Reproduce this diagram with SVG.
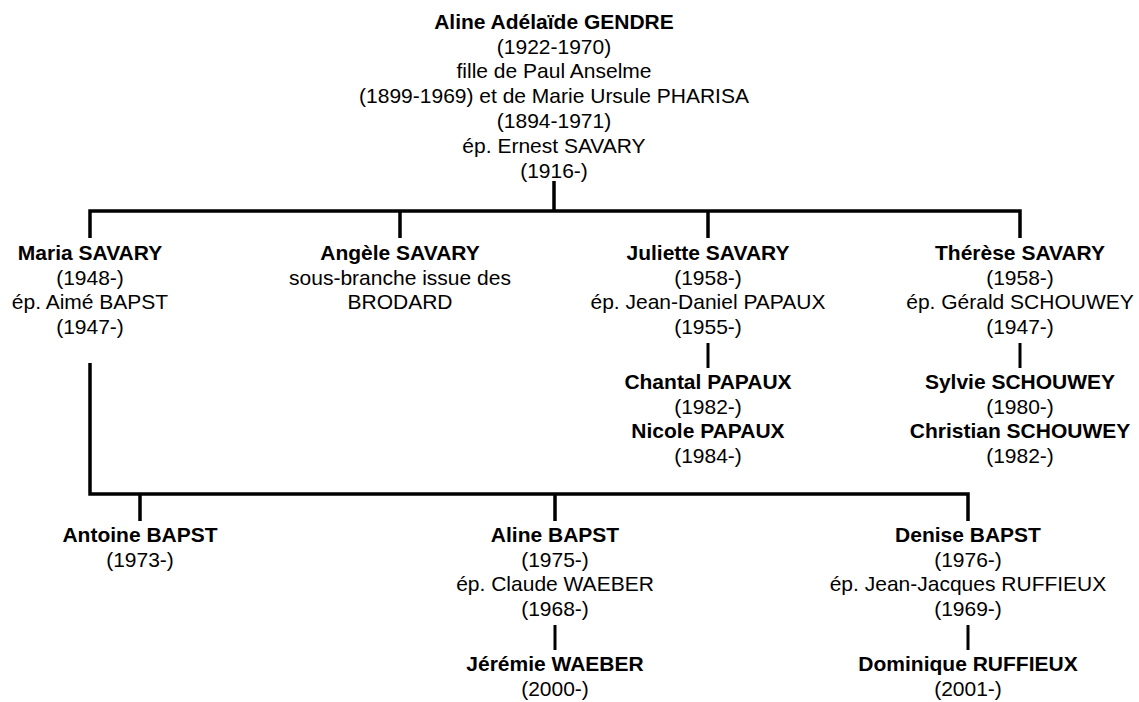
<svg xmlns="http://www.w3.org/2000/svg" width="1139" height="702" viewBox="0 0 1139 702">
<style>
text{font-family:"Liberation Sans",Arial,sans-serif;font-size:21px;fill:#000;text-anchor:middle}
.b{font-weight:bold}
.c{stroke:#000;stroke-width:3.5;fill:none}
.s{stroke:#000;stroke-width:3;fill:none}
</style>
<rect width="1139" height="702" fill="#fff"/>
<g id="connectors">
<path class="c" d="M554 181V211M90 238V211H1020V238M400 211V238M708 211V238"/>
<path class="s" d="M708 343V368M1020 343V368"/>
<path class="c" d="M90 363V494H968V521M140 494V521M555 494V521"/>
<path class="s" d="M555 625V650M968 625V650"/>
</g>
<g id="n-aline-gendre">
<text x="554" y="29" class="b">Aline Adélaïde GENDRE</text>
<text x="554" y="54">(1922-1970)</text>
<text x="554" y="78">fille de Paul Anselme</text>
<text x="554" y="103">(1899-1969) et de Marie Ursule PHARISA</text>
<text x="554" y="128">(1894-1971)</text>
<text x="554" y="153">ép. Ernest SAVARY</text>
<text x="554" y="178">(1916-)</text>
</g>
<g id="n-maria">
<text x="90" y="260" class="b">Maria SAVARY</text>
<text x="90" y="285">(1948-)</text>
<text x="90" y="309">ép. Aimé BAPST</text>
<text x="90" y="334">(1947-)</text>
</g>
<g id="n-angele">
<text x="400" y="260" class="b">Angèle SAVARY</text>
<text x="400" y="285">sous-branche issue des</text>
<text x="400" y="309">BRODARD</text>
</g>
<g id="n-juliette">
<text x="708" y="260" class="b">Juliette SAVARY</text>
<text x="708" y="285">(1958-)</text>
<text x="708" y="309">ép. Jean-Daniel PAPAUX</text>
<text x="708" y="334">(1955-)</text>
</g>
<g id="n-juliette-children">
<text x="708" y="389" class="b">Chantal PAPAUX</text>
<text x="708" y="414">(1982-)</text>
<text x="708" y="438" class="b">Nicole PAPAUX</text>
<text x="708" y="463">(1984-)</text>
</g>
<g id="n-therese">
<text x="1020" y="260" class="b">Thérèse SAVARY</text>
<text x="1020" y="285">(1958-)</text>
<text x="1020" y="309">ép. Gérald SCHOUWEY</text>
<text x="1020" y="334">(1947-)</text>
</g>
<g id="n-therese-children">
<text x="1020" y="389" class="b">Sylvie SCHOUWEY</text>
<text x="1020" y="414">(1980-)</text>
<text x="1020" y="438" class="b">Christian SCHOUWEY</text>
<text x="1020" y="463">(1982-)</text>
</g>
<g id="n-antoine">
<text x="140" y="542" class="b">Antoine BAPST</text>
<text x="140" y="567">(1973-)</text>
</g>
<g id="n-aline-bapst">
<text x="555" y="542" class="b">Aline BAPST</text>
<text x="555" y="567">(1975-)</text>
<text x="555" y="591">ép. Claude WAEBER</text>
<text x="555" y="616">(1968-)</text>
</g>
<g id="n-jeremie">
<text x="555" y="671" class="b">Jérémie WAEBER</text>
<text x="555" y="696">(2000-)</text>
</g>
<g id="n-denise">
<text x="968" y="542" class="b">Denise BAPST</text>
<text x="968" y="567">(1976-)</text>
<text x="968" y="591">ép. Jean-Jacques RUFFIEUX</text>
<text x="968" y="616">(1969-)</text>
</g>
<g id="n-dominique">
<text x="968" y="671" class="b">Dominique RUFFIEUX</text>
<text x="968" y="696">(2001-)</text>
</g>
</svg>
